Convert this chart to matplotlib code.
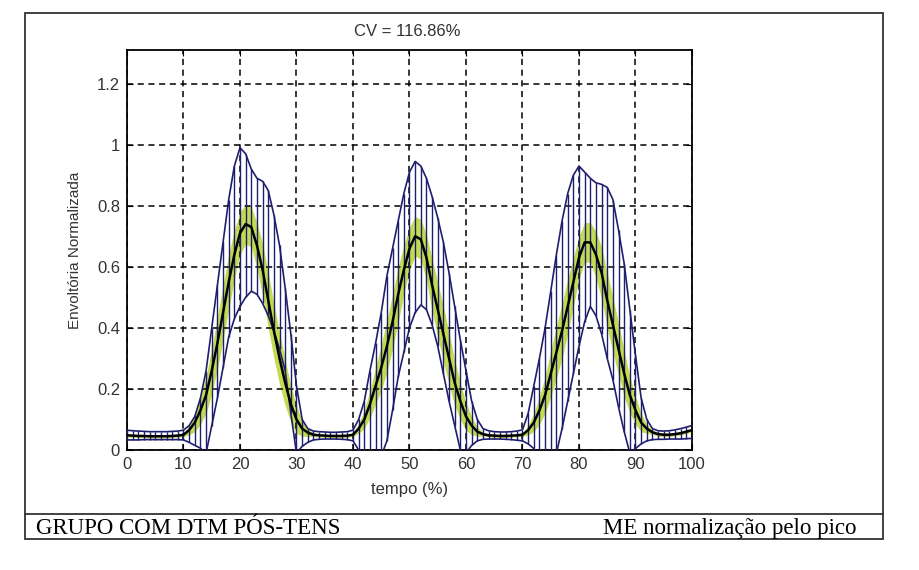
import numpy as np
import matplotlib.pyplot as plt
from matplotlib.patches import Rectangle
from matplotlib.lines import Line2D

## normalised EMG envelope, 0-100 % of the cycle, one sample per 1 %
tempo = np.arange(0, 101)

media = [0.048, 0.047, 0.046, 0.046, 0.045, 0.045, 0.045, 0.045, 0.046, 0.047,
         0.050, 0.065, 0.09, 0.13, 0.18, 0.26, 0.35, 0.45, 0.55, 0.64,
         0.71, 0.74, 0.73, 0.67, 0.59, 0.49, 0.39, 0.30, 0.22, 0.15,
         0.10, 0.07, 0.057, 0.050, 0.048, 0.047, 0.046, 0.046, 0.046, 0.047,
         0.050, 0.07, 0.10, 0.15, 0.21, 0.27, 0.34, 0.42, 0.51, 0.59,
         0.66, 0.70, 0.69, 0.63, 0.54, 0.46, 0.38, 0.30, 0.22, 0.16,
         0.11, 0.08, 0.06, 0.052, 0.048, 0.047, 0.046, 0.046, 0.047, 0.048,
         0.050, 0.065, 0.09, 0.13, 0.18, 0.25, 0.32, 0.39, 0.47, 0.55,
         0.63, 0.68, 0.68, 0.64, 0.58, 0.49, 0.41, 0.33, 0.25, 0.18,
         0.13, 0.09, 0.07, 0.058, 0.052, 0.050, 0.050, 0.052, 0.055, 0.060,
         0.065]

superior = [0.065, 0.063, 0.062, 0.061, 0.060, 0.060, 0.060, 0.060, 0.061, 0.062,
            0.065, 0.08, 0.11, 0.17, 0.26, 0.40, 0.54, 0.68, 0.82, 0.93,
            0.99, 0.97, 0.92, 0.89, 0.88, 0.85, 0.77, 0.67, 0.53, 0.38,
            0.21, 0.10, 0.07, 0.062, 0.060, 0.059, 0.058, 0.058, 0.059, 0.060,
            0.065, 0.10, 0.16, 0.26, 0.35, 0.45, 0.57, 0.66, 0.75, 0.84,
            0.91, 0.945, 0.93, 0.89, 0.83, 0.76, 0.68, 0.58, 0.47, 0.36,
            0.26, 0.16, 0.10, 0.07, 0.063, 0.060, 0.059, 0.059, 0.060, 0.062,
            0.066, 0.12, 0.21, 0.30, 0.40, 0.52, 0.64, 0.75, 0.84, 0.90,
            0.93, 0.91, 0.89, 0.875, 0.87, 0.86, 0.82, 0.72, 0.61, 0.46,
            0.31, 0.17, 0.10, 0.07, 0.063, 0.062, 0.063, 0.066, 0.070, 0.075,
            0.080]

inferior = [0.033, 0.033, 0.033, 0.034, 0.034, 0.034, 0.034, 0.034, 0.034, 0.034,
            0.033, 0.025, 0.015, 0.006, -0.01, 0.08, 0.17, 0.27, 0.37, 0.43,
            0.47, 0.50, 0.52, 0.51, 0.48, 0.44, 0.39, 0.33, 0.26, 0.12,
            -0.01, 0.012, 0.025, 0.033, 0.035, 0.036, 0.036, 0.036, 0.035, 0.034,
            0.030, 0.0, -0.02, -0.03, -0.03, -0.02, 0.03, 0.13, 0.24, 0.32,
            0.40, 0.45, 0.475, 0.46, 0.41, 0.34, 0.25, 0.16, 0.08, 0.0,
            -0.01, 0.015, 0.030, 0.035, 0.036, 0.036, 0.036, 0.035, 0.034, 0.032,
            0.030, 0.020, 0.005, -0.02, -0.03, -0.03, -0.01, 0.07, 0.16, 0.25,
            0.34, 0.42, 0.47, 0.44, 0.38, 0.30, 0.23, 0.14, 0.06, -0.01,
            0.005, 0.020, 0.030, 0.034, 0.035, 0.035, 0.036, 0.036, 0.036, 0.037,
            0.038]

# half width of the yellow band around the mean
banda = [0.005, 0.005, 0.005, 0.005, 0.005, 0.005, 0.005, 0.005, 0.005, 0.005,
         0.006, 0.015, 0.03, 0.045, 0.06, 0.075, 0.085, 0.09, 0.09, 0.08,
         0.07, 0.065, 0.065, 0.075, 0.085, 0.09, 0.09, 0.085, 0.075, 0.06,
         0.045, 0.025, 0.012, 0.006, 0.005, 0.005, 0.005, 0.005, 0.005, 0.005,
         0.006, 0.015, 0.03, 0.045, 0.06, 0.075, 0.085, 0.09, 0.09, 0.08,
         0.07, 0.065, 0.065, 0.075, 0.085, 0.09, 0.09, 0.085, 0.075, 0.06,
         0.045, 0.03, 0.015, 0.006, 0.005, 0.005, 0.005, 0.005, 0.005, 0.005,
         0.006, 0.015, 0.03, 0.045, 0.06, 0.075, 0.085, 0.09, 0.09, 0.08,
         0.07, 0.065, 0.065, 0.075, 0.085, 0.09, 0.09, 0.085, 0.075, 0.06,
         0.045, 0.03, 0.015, 0.007, 0.006, 0.006, 0.006, 0.006, 0.006, 0.006,
         0.006]

xticks = [0, 10, 20, 30, 40, 50, 60, 70, 80, 90, 100]
yticks = [0, 0.2, 0.4, 0.6, 0.8, 1, 1.2]
ytick_labels = ['0', '0.2', '0.4', '0.6', '0.8', '1', '1.2']

titulo = 'CV = 116.86%'
rodape_esq = 'GRUPO COM DTM PÓS-TENS'
rodape_dir = 'ME normalização pelo pico'

media = np.array(media)
banda = np.array(banda)

navy = '#1e1e6e'
cinza = '#333333'

fig = plt.figure(figsize=(9.2, 5.7), dpi=100)
ax = fig.add_axes([127/920, 120/570, 565/920, 400/570])

ax.fill_between(tempo, media - banda, media + banda, color='#c4da52', lw=0, zorder=2)
ax.vlines(tempo, inferior, superior, color=navy, lw=1.0, zorder=3)
ax.plot(tempo, superior, color=navy, lw=1.2, zorder=3)
ax.plot(tempo, inferior, color=navy, lw=1.2, zorder=3)
ax.plot(tempo, media, color='black', lw=1.8, zorder=4)

ax.set_xlim(0, 100)
ax.set_ylim(0, 1.31)
ax.set_xticks(xticks)
ax.set_yticks(yticks)
ax.set_yticklabels(ytick_labels)
ax.grid(True, color='black', lw=1.1, linestyle=(0, (4, 3)))
ax.set_axisbelow(False)
for s in ax.spines.values():
    s.set_linewidth(1.3)
ax.tick_params(direction='in', length=4, top=True, right=True, labelsize=12,
               labelcolor=cinza, pad=5)
for lab in ax.get_xticklabels() + ax.get_yticklabels():
    lab.set_family('Liberation Sans')

ax.set_xlabel('tempo (%)', fontsize=12, family='Liberation Sans', color=cinza)
ax.set_ylabel('Envoltória Normalizada', fontsize=11, family='Liberation Sans', color=cinza)
ax.xaxis.set_label_coords(0.5, -0.08)
ax.yaxis.set_label_coords(-0.08, 0.5)

fig.text(407/920, 1 - 31/570, titulo, ha='center', va='center', fontsize=12,
         family='Liberation Sans', color=cinza)

## outer frame and footer
fig.patches.append(Rectangle((25/920, 31/570), 858/920, 526/570, transform=fig.transFigure,
                             fill=False, ec=cinza, lw=1.3))
fig.lines.append(Line2D([25/920, 883/920], [56/570, 56/570], transform=fig.transFigure,
                        color=cinza, lw=1.3))
fig.text(36/920, 36/570, rodape_esq, ha='left', va='baseline', fontsize=16.5,
         family='Liberation Serif', color='black')
fig.text(857/920, 36/570, rodape_dir, ha='right', va='baseline', fontsize=16.5,
         family='Liberation Serif', color='black')

plt.savefig('out.png', dpi=100)
